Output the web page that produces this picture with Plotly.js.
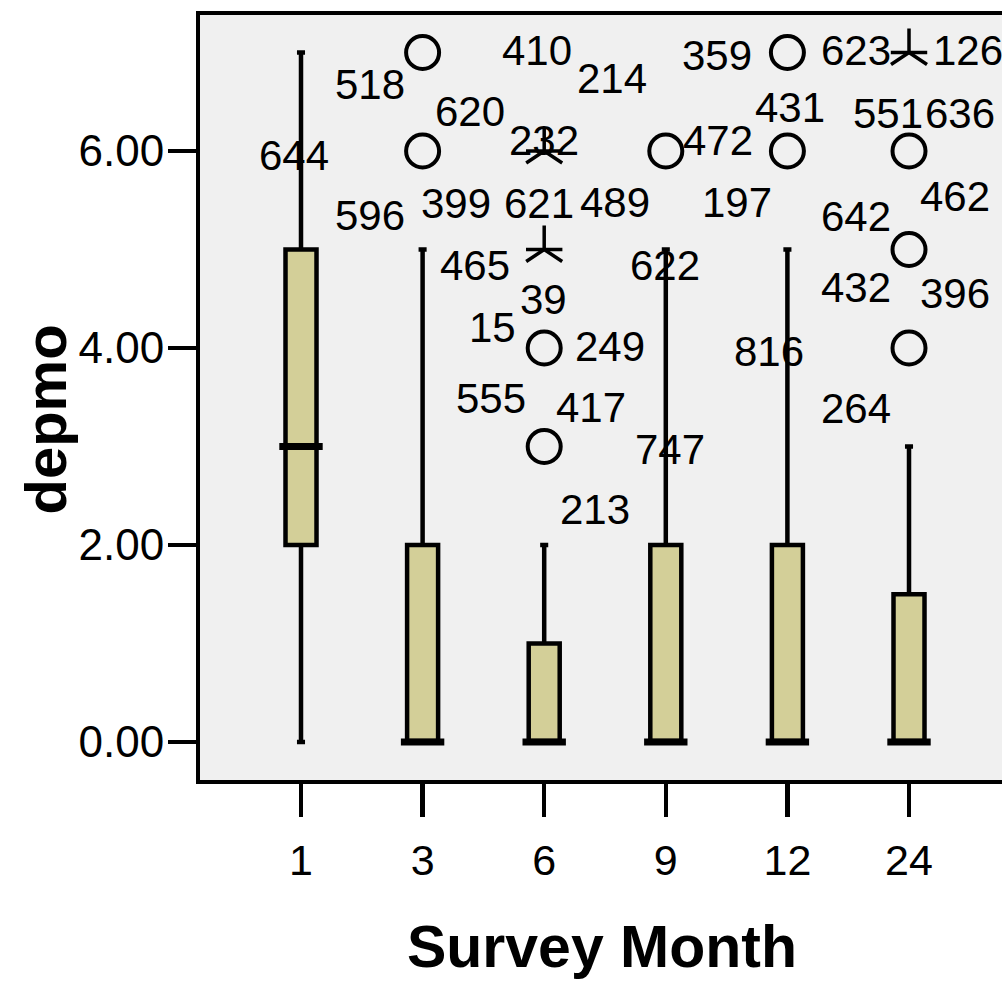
<!DOCTYPE html>
<html><head><meta charset="utf-8">
<script src="https://cdn.plot.ly/plotly-3.0.1.min.js"></script>
<style>html,body{margin:0;padding:0;overflow:hidden;background:#fff}#chart{width:1044px;height:983px}</style>
</head><body><div id="chart"></div>
<script>
// ---- data ----
const months = ['1', '3', '6', '9', '12', '24'];
const lowerWhisker = [0, 0, 0, 0, 0, 0];
const q1 = [2, 0, 0, 0, 0, 0];
const median = [3, 0, 0, 0, 0, 0];
const q3 = [5, 2, 1, 2, 2, 1.5];
const upperWhisker = [7, 5, 2, 5, 5, 3];

// outliers (circles) and extremes (stars): group index and value
const outlierGroup = [1, 1, 2, 2, 3, 4, 4, 5, 5, 5];
const outlierValue = [7, 6, 4, 3, 6, 7, 6, 6, 5, 4];
const extremeGroup = [2, 2, 5];
const extremeValue = [6, 5, 7];

// case-number labels attached to outlier points
const caseLabel = ['518','644','620','596','399','410','214','232','621','489','465','39','15','249','555','417','213','747','472','622','359','431','197','623','126','551','636','462','642','432','396','816','264'];
const caseGroup = [1,1,1,1,1,2,2,2,2,2,2,2,2,2,2,2,2,2,3,3,4,4,4,5,5,5,5,5,5,5,5,5,5];
const caseValue = [7,6,6,6,6,6,6,6,6,6,5,4,4,4,3,3,3,3,6,6,7,6,6,7,7,6,6,5,5,5,4,4,4];

// ---- label placement (pixels, dx right / dy down) ----
const labelOffset = [[-53,32],[-129,4],[47,-40],[-53,64],[33,52],[-7,-101],[68,-73],[0,-11],[-5,52],[71,51],[-69,16],[-1,-49],[-52,-21],[66,-2],[-53,-48],[47,-39],[51,63],[126,3],[52,-11],[-1,114],[-70,3],[3,-44],[-50,51],[-53,-2],[59,-2],[-21,-38],[51,-38],[46,-53],[-53,-33],[-53,38],[46,-55],[-140,3],[-53,60]];

const FONT = 'Liberation Sans, Arial, Helvetica, sans-serif';
const idx = months.map((m, i) => i);

const traces = [
  {
    type: 'box', x: idx, q1: q1, median: median, q3: q3,
    lowerfence: lowerWhisker, upperfence: upperWhisker,
    width: 0.255, whiskerwidth: 0.26, boxpoints: false,
    fillcolor: '#d3cf98', line: {color: '#000', width: 4.5},
    hoverinfo: 'skip', showlegend: false
  },
  {
    type: 'scatter', mode: 'markers', x: idx, y: median,
    marker: {symbol: 'line-ew-open', size: 31, color: '#000', line: {color: '#000', width: 7}},
    hoverinfo: 'skip', showlegend: false
  },
  {
    type: 'scatter', mode: 'markers', x: outlierGroup, y: outlierValue,
    marker: {symbol: 'circle-open', size: 33, color: '#000', line: {color: '#000', width: 4}},
    hoverinfo: 'skip', showlegend: false
  },
  {
    type: 'scatter', mode: 'markers', x: extremeGroup, y: extremeValue,
    marker: {symbol: 'y-up-open', size: 30, color: '#000', line: {color: '#000', width: 3.5}},
    hoverinfo: 'skip', showlegend: false
  },
  {
    type: 'scatter', mode: 'markers', x: extremeGroup, y: extremeValue,
    marker: {symbol: 'line-ew-open', size: 26, color: '#000', line: {color: '#000', width: 3.5}},
    hoverinfo: 'skip', showlegend: false
  }
];

const annotations = caseLabel.map((t, i) => ({
  text: t, x: caseGroup[i], y: caseValue[i], xref: 'x', yref: 'y',
  xshift: labelOffset[i][0], yshift: -labelOffset[i][1],
  showarrow: false, xanchor: 'center', yanchor: 'middle',
  font: {family: FONT, size: 42, color: '#000'}
}));
// y-axis title, placed as in the original (slightly below plot centre)
annotations.push({
  text: 'depmo', xref: 'paper', yref: 'paper', x: 0, y: 0.5,
  xshift: -155, yshift: -22, textangle: -90, showarrow: false,
  xanchor: 'center', yanchor: 'middle',
  font: {family: FONT, size: 58, weight: 700, color: '#000'}
});

const layout = {
  width: 1044, height: 983,
  margin: {l: 200, r: 40, t: 15, b: 203, pad: 0},
  paper_bgcolor: '#ffffff', plot_bgcolor: '#f0f0f0',
  showlegend: false,
  font: {family: FONT, color: '#000'},
  xaxis: {
    range: [-0.8306, 5.7812], tickmode: 'array', tickvals: idx, ticktext: months,
    ticks: 'outside', ticklen: 33, tickwidth: 4.5, tickcolor: '#000',
    showline: true, linewidth: 4, linecolor: '#000', mirror: true,
    showgrid: false, zeroline: false,
    tickfont: {family: FONT, size: 43, color: '#000'},
    ticklabelstandoff: 6,
    title: {text: 'Survey Month', font: {family: FONT, size: 59, weight: 700, color: '#000'}, standoff: 44}
  },
  yaxis: {
    range: [-0.3858, 7.381], tickmode: 'array', tickvals: [0, 2, 4, 6],
    ticktext: ['0.00', '2.00', '4.00', '6.00'],
    ticks: 'outside', ticklen: 28, tickwidth: 4.5, tickcolor: '#000',
    showline: true, linewidth: 4, linecolor: '#000', mirror: true,
    showgrid: false, zeroline: false,
    tickfont: {family: FONT, size: 44, color: '#000'},
    ticklabelstandoff: -5
  },
  annotations: annotations
};

Plotly.newPlot('chart', traces, layout, {staticPlot: true, displayModeBar: false});
</script>
</body></html>
